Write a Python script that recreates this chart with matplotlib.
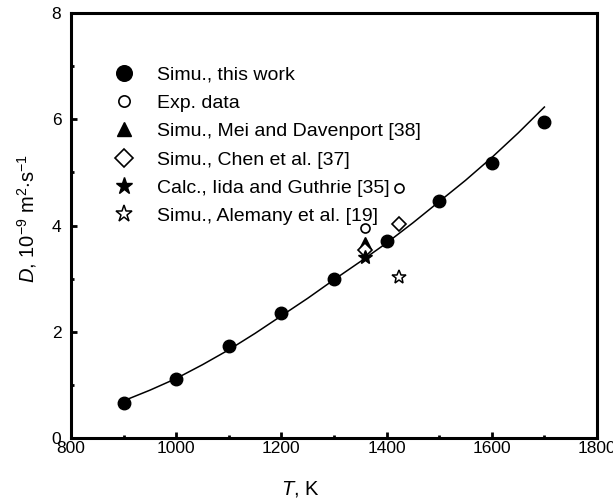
import numpy as np
import matplotlib
matplotlib.use("Agg")
import matplotlib.pyplot as plt
from matplotlib.ticker import MultipleLocator

plt.rcParams['font.family'] = ['Liberation Sans', 'DejaVu Sans']
plt.rcParams['mathtext.fontset'] = 'custom'
plt.rcParams['mathtext.rm'] = 'Liberation Sans'
plt.rcParams['mathtext.it'] = 'Liberation Sans:italic'

# simulated diffusion coefficients, this work
T_sim = [900, 1000, 1100, 1200, 1300, 1400, 1500, 1600, 1700]
D_sim = [0.66, 1.12, 1.74, 2.36, 2.99, 3.71, 4.46, 5.18, 5.95]

# fitted curve
T_fit = [900, 950, 1000, 1050, 1100, 1150, 1200, 1250, 1300, 1350,
         1400, 1450, 1500, 1550, 1600, 1650, 1700]
D_fit = [0.70, 0.90, 1.12, 1.38, 1.66, 1.97, 2.30, 2.63, 2.98, 3.32,
         3.67, 4.05, 4.45, 4.85, 5.28, 5.74, 6.23]

# literature values
T_exp = [1358, 1423]
D_exp = [3.96, 4.71]
T_mei = [1358]
D_mei = [3.67]
T_chen = [1358, 1423]
D_chen = [3.54, 4.03]
T_iida = [1358]
D_iida = [3.41]
T_alem = [1423]
D_alem = [3.03]

fig = plt.figure(figsize=(6.13, 5.03), dpi=100)
ax = fig.add_axes([71/613, 1-438/503, (597-71)/613, (438-13)/503])

ax.plot(T_fit, D_fit, color='black', lw=1.1, zorder=1)
ax.plot(T_sim, D_sim, 'o', color='black', ms=9, ls='none', label='Simu., this work')
ax.plot(T_exp, D_exp, 'o', mfc='white', mec='black', mew=1.2, ms=6.5, ls='none', label='Exp. data')
ax.plot(T_mei, D_mei, '^', color='black', ms=8.5, ls='none', label='Simu., Mei and Davenport [38]')
ax.plot(T_chen, D_chen, 'D', mfc='white', mec='black', mew=1.2, ms=7.5, ls='none', label='Simu., Chen et al. [37]')
ax.plot(T_iida, D_iida, '*', color='black', ms=10, ls='none', label='Calc., Iida and Guthrie [35]')
ax.plot(T_alem, D_alem, '*', mfc='white', mec='black', mew=1.1, ms=10, ls='none', label='Simu., Alemany et al. [19]')

ax.set_xlim(800, 1800)
ax.set_ylim(0, 8)
ax.xaxis.set_major_locator(MultipleLocator(200))
ax.xaxis.set_minor_locator(MultipleLocator(100))
ax.yaxis.set_major_locator(MultipleLocator(2))
ax.yaxis.set_minor_locator(MultipleLocator(1))
ax.tick_params(which='both', direction='in', top=False, right=False, labelsize=12.5)
ax.tick_params(which='major', length=4, width=2)
ax.tick_params(which='minor', length=2.5, width=2)
ax.tick_params(axis='x', pad=2)
ax.tick_params(axis='y', pad=7)
for s in ax.spines.values():
    s.set_linewidth(2.2)

leg = ax.legend(loc='upper left', bbox_to_anchor=(114/613, 1-66/503),
                bbox_transform=fig.transFigure, frameon=False, fontsize=14,
                handlelength=1.0, handletextpad=1.2, labelspacing=0.55,
                markerscale=1.25, borderpad=0, borderaxespad=0)

fig.text(300/613, 1-489/503, r'$T$, K', fontsize=14.5, ha='center', va='center')
fig.text(27/613, 1-218/503, r'$D$, 10$^{-9}$ m$^{2}$$\cdot$s$^{-1}$', fontsize=14.5,
         ha='center', va='center', rotation=90)

fig.savefig('out.png', dpi=100)
